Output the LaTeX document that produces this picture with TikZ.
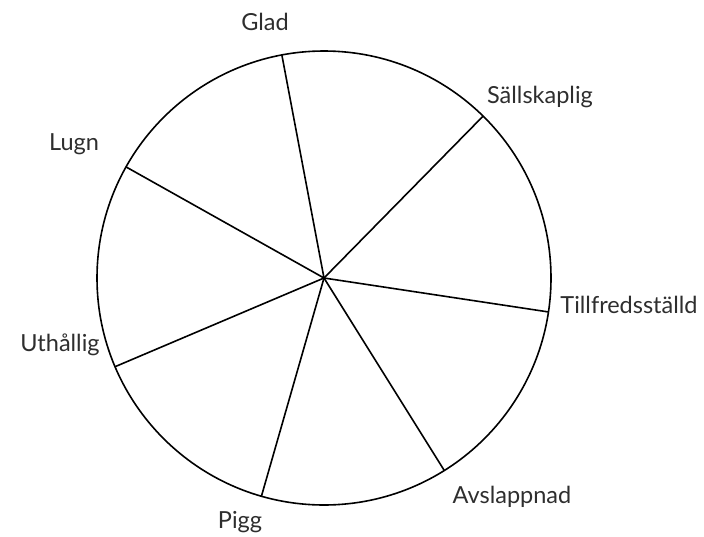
\documentclass[tikz,border=0pt]{standalone}
\usepackage{fontspec}
\setmainfont{Lato}
\usetikzlibrary{calc}
\begin{document}
\begin{tikzpicture}[x=1pt,y=-1pt,
  wheel/.style={line width=1.6pt, draw=black},
  lbl/.style={font=\fontsize{23.5}{28}\selectfont, text=black!82, inner sep=0pt}]
\useasboundingbox (0,0) rectangle (704,536);
\coordinate (c) at (324,278);
\draw[wheel] (c) circle[radius=227];
\foreach \n/\a in {glad/100.7, sall/45.5, till/-8.6, avsl/-58, pigg/-106, uth/203, lugn/150.7}{
  \coordinate (\n) at ($(c)+(\a:227 and -227)$);
}
\draw[wheel] (c) -- (glad);
\draw[wheel] (c) -- (sall);
\draw[wheel] (c) -- (till);
\draw[wheel] (c) -- (avsl);
\draw[wheel] (c) -- (pigg);
\draw[wheel] (c) -- (uth);
\draw[wheel] (c) -- (lugn);
\node[lbl] (tglad) at (265,22) {Glad};
\node[lbl] (tsall) at (540,97) {Sällskaplig};
\node[lbl] (ttill) at (629,305) {Tillfredsställd};
\node[lbl] (tavsl) at (512,497) {Avslappnad};
\node[lbl] (tpigg) at (240,522) {Pigg};
\node[lbl] (tuth) at (60,345) {Uthållig};
\node[lbl] (tlugn) at (74,144) {Lugn};
\end{tikzpicture}
\end{document}
